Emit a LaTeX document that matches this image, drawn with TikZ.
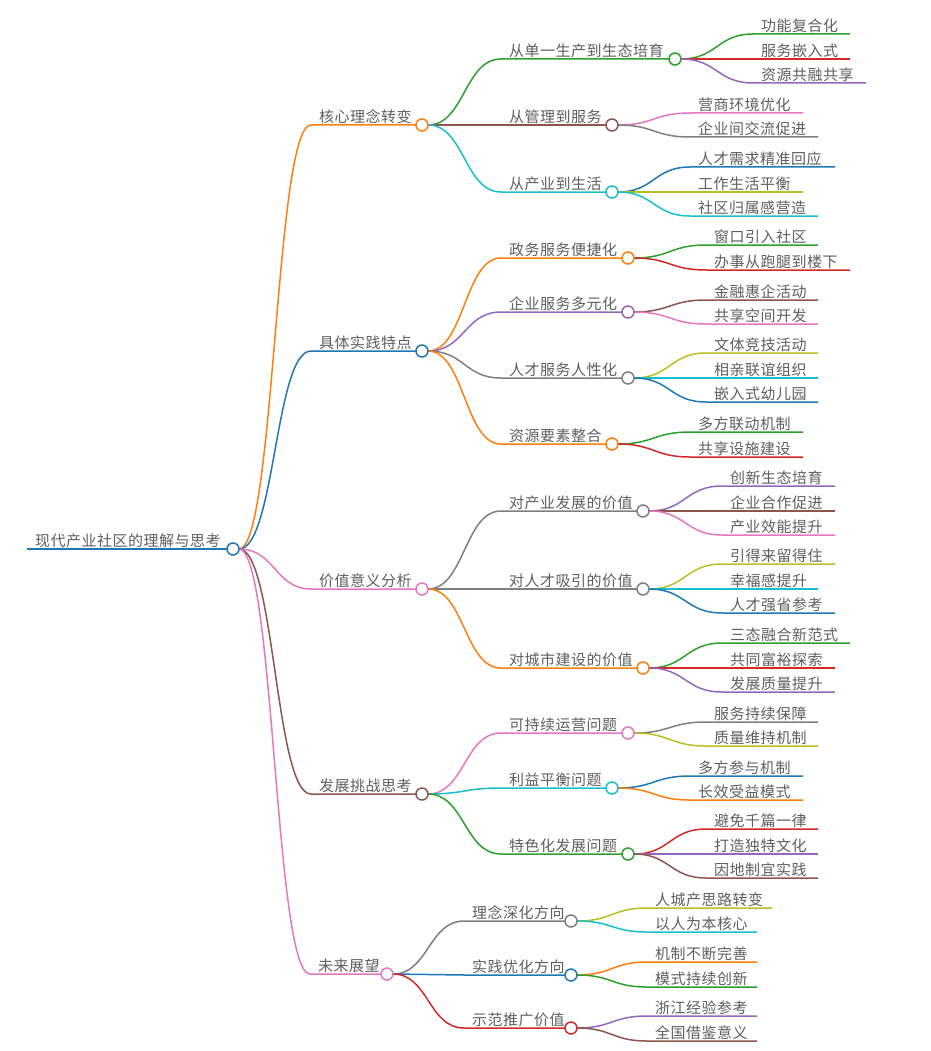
\documentclass[tikz,border=0pt]{standalone}
\usepackage{fontspec}
\setmainfont{Noto Sans CJK SC}[LetterSpace=3.3]
\usetikzlibrary{calc,backgrounds}
\definecolor{cblue}{HTML}{1F77B4}
\definecolor{corange}{HTML}{FF7F0E}
\definecolor{cgreen}{HTML}{2CA02C}
\definecolor{cred}{HTML}{D62728}
\definecolor{cpurple}{HTML}{9467BD}
\definecolor{cbrown}{HTML}{8C564B}
\definecolor{cpink}{HTML}{E377C2}
\definecolor{cgray}{HTML}{7F7F7F}
\definecolor{colive}{HTML}{BCBD22}
\definecolor{ccyan}{HTML}{17BECF}
\definecolor{textgray}{HTML}{5E5E5E}
\tikzset{
  mmdot/.style={circle, fill=white, minimum size=12pt, inner sep=0pt, outer sep=0pt, line width=1.5pt},
  mmtext/.style={anchor=base west, inner sep=0pt, text=textgray, font=\fontsize{15}{18}\selectfont},
  mmlink/.style={line width=1.5pt},
  mmcurve/.style={to path={let \p1=(\tikztostart), \p2=(\tikztotarget) in
     .. controls ({0.5*\x1+0.5*\x2},\y1) and ({0.5*\x1+0.5*\x2},\y2) .. (\tikztotarget)}}
}
% #1 name, #2 parent, #3 colour, #4 text x, #5 y, #6 circle x, #7 text
\newcommand{\mmbranch}[7]{%
  \coordinate (#1s) at ({#4-8},#5);
  \node[mmdot,draw=#3] (#1) at (#6,#5) {};
  \node[mmtext] (#1t) at (#4,{#5-2.5}) {#7};
  \begin{pgfonlayer}{background}
    \draw[mmlink,#3] (#2.east) to[mmcurve] (#1s) -- (#1.west);
  \end{pgfonlayer}
}
% #1 name, #2 parent, #3 colour, #4 text x, #5 y, #6 line end x, #7 text
\newcommand{\mmleaf}[7]{%
  \coordinate (#1s) at ({#4-8},#5);
  \coordinate (#1e) at (#6,#5);
  \node[mmtext] (#1t) at (#4,{#5-2.5}) {#7};
  \begin{pgfonlayer}{background}
    \draw[mmlink,#3] (#2.east) to[mmcurve] (#1s) -- (#1e);
  \end{pgfonlayer}
}
\begin{document}
\begin{tikzpicture}[x=1pt,y=-1pt]
\useasboundingbox (0,0) rectangle (930,1051);
% root
\coordinate (roots) at (27,549);
\node[mmdot,draw=cblue] (root) at (233,549) {};
\node[mmtext] (roott) at (35,546.5) {现代产业社区的理解与思考};
\begin{pgfonlayer}{background}
  \draw[cblue,line width=2pt] (roots) -- (root.west);
\end{pgfonlayer}
% level 1
\mmbranch{A}{root}{corange}{319}{125}{422}{核心理念转变}
\mmbranch{B}{root}{cblue}{319}{351}{422}{具体实践特点}
\mmbranch{C}{root}{cpink}{319}{589}{422}{价值意义分析}
\mmbranch{D}{root}{cbrown}{319}{794}{422}{发展挑战思考}
\mmbranch{E}{root}{cpink}{318}{974}{387}{未来展望}
% level 2
\mmbranch{A1}{A}{cgreen}{509}{59}{675}{从单一生产到生态培育}
\mmbranch{A2}{A}{cbrown}{509}{125}{612}{从管理到服务}
\mmbranch{A3}{A}{ccyan}{509}{192}{612}{从产业到生活}
\mmbranch{B1}{B}{corange}{509}{258}{628}{政务服务便捷化}
\mmbranch{B2}{B}{cpurple}{509}{312}{628}{企业服务多元化}
\mmbranch{B3}{B}{cgray}{509}{378}{628}{人才服务人性化}
\mmbranch{B4}{B}{corange}{509}{444}{612}{资源要素整合}
\mmbranch{C1}{C}{cgray}{509}{511}{643}{对产业发展的价值}
\mmbranch{C2}{C}{cgray}{509}{589}{643}{对人才吸引的价值}
\mmbranch{C3}{C}{corange}{509}{668}{643}{对城市建设的价值}
\mmbranch{D1}{D}{cpink}{509}{733}{628}{可持续运营问题}
\mmbranch{D2}{D}{ccyan}{509}{788}{612}{利益平衡问题}
\mmbranch{D3}{D}{cgreen}{509}{854}{628}{特色化发展问题}
\mmbranch{E1}{E}{cgray}{472}{921}{571}{理念深化方向}
\mmbranch{E2}{E}{cblue}{472}{975}{571}{实践优化方向}
\mmbranch{E3}{E}{cred}{472}{1028}{571}{示范推广价值}
% leaves
\mmleaf{A1a}{A1}{cgreen}{761}{34}{850}{功能复合化}
\mmleaf{A1b}{A1}{cred}{761}{59}{850}{服务嵌入式}
\mmleaf{A1c}{A1}{cpurple}{761}{83}{866}{资源共融共享}
\mmleaf{A2a}{A2}{cpink}{698}{113}{803}{营商环境优化}
\mmleaf{A2b}{A2}{cgray}{698}{137}{818}{企业间交流促进}
\mmleaf{A3a}{A3}{cblue}{698}{167}{835}{人才需求精准回应}
\mmleaf{A3b}{A3}{colive}{698}{192}{803}{工作生活平衡}
\mmleaf{A3c}{A3}{ccyan}{698}{216}{818}{社区归属感营造}
\mmleaf{B1a}{B1}{cgreen}{714}{245}{818}{窗口引入社区}
\mmleaf{B1b}{B1}{cred}{714}{270}{850}{办事从跑腿到楼下}
\mmleaf{B2a}{B2}{cbrown}{714}{300}{818}{金融惠企活动}
\mmleaf{B2b}{B2}{cpink}{714}{324}{818}{共享空间开发}
\mmleaf{B3a}{B3}{colive}{714}{353}{818}{文体竞技活动}
\mmleaf{B3b}{B3}{ccyan}{714}{378}{818}{相亲联谊组织}
\mmleaf{B3c}{B3}{cblue}{714}{402}{818}{嵌入式幼儿园}
\mmleaf{B4a}{B4}{cgreen}{698}{432}{803}{多方联动机制}
\mmleaf{B4b}{B4}{cred}{698}{457}{803}{共享设施建设}
\mmleaf{C1a}{C1}{cpurple}{730}{486}{835}{创新生态培育}
\mmleaf{C1b}{C1}{cbrown}{730}{511}{835}{企业合作促进}
\mmleaf{C1c}{C1}{cpink}{730}{535}{835}{产业效能提升}
\mmleaf{C2a}{C2}{colive}{730}{564}{835}{引得来留得住}
\mmleaf{C2b}{C2}{ccyan}{730}{589}{818}{幸福感提升}
\mmleaf{C2c}{C2}{cblue}{730}{613}{835}{人才强省参考}
\mmleaf{C3a}{C3}{cgreen}{730}{643}{850}{三态融合新范式}
\mmleaf{C3b}{C3}{cred}{730}{668}{835}{共同富裕探索}
\mmleaf{C3c}{C3}{cpurple}{730}{692}{835}{发展质量提升}
\mmleaf{D1a}{D1}{cgray}{714}{722}{818}{服务持续保障}
\mmleaf{D1b}{D1}{colive}{714}{746}{818}{质量维持机制}
\mmleaf{D2a}{D2}{cblue}{698}{776}{803}{多方参与机制}
\mmleaf{D2b}{D2}{corange}{698}{800}{803}{长效受益模式}
\mmleaf{D3a}{D3}{cred}{714}{829}{818}{避免千篇一律}
\mmleaf{D3b}{D3}{cpurple}{714}{854}{818}{打造独特文化}
\mmleaf{D3c}{D3}{cbrown}{714}{878}{818}{因地制宜实践}
\mmleaf{E1a}{E1}{colive}{655}{908}{772}{人城产思路转变}
\mmleaf{E1b}{E1}{ccyan}{655}{932}{757}{以人为本核心}
\mmleaf{E2a}{E2}{corange}{655}{962}{757}{机制不断完善}
\mmleaf{E2b}{E2}{cgreen}{655}{987}{757}{模式持续创新}
\mmleaf{E3a}{E3}{cpurple}{655}{1016}{757}{浙江经验参考}
\mmleaf{E3b}{E3}{cbrown}{655}{1041}{757}{全国借鉴意义}
\end{tikzpicture}
\end{document}
